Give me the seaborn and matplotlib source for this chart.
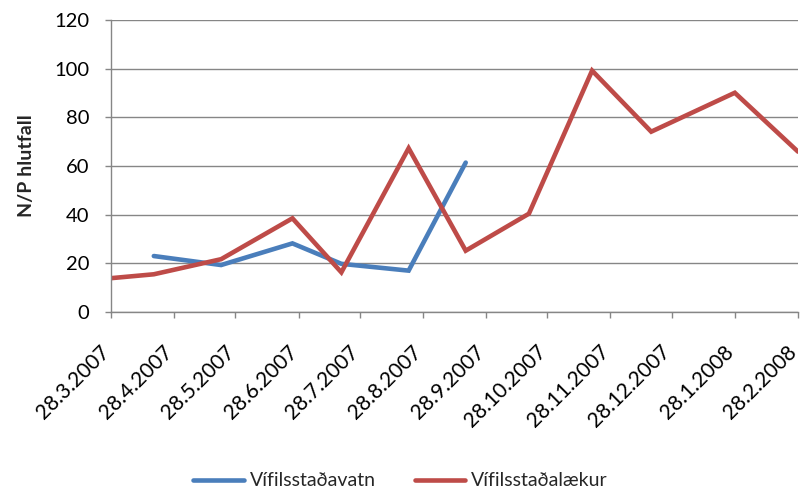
import matplotlib
matplotlib.use("Agg")
import matplotlib.pyplot as plt
import matplotlib.dates as mdates
import seaborn as sns
import pandas as pd
import numpy as np

# ---- data ----
dates = ["2007-03-28", "2007-04-18", "2007-05-21", "2007-06-25", "2007-07-19",
         "2007-08-21", "2007-09-18", "2007-10-19", "2007-11-19", "2007-12-18",
         "2008-01-28", "2008-02-28"]
vatn = [np.nan, 23.0, 19.3, 28.2, 19.8, 17.0, 61.4,
        np.nan, np.nan, np.nan, np.nan, np.nan]
laekur = [13.9, 15.5, 21.7, 38.5, 16.3, 67.3, 25.2, 40.4, 99.2, 74.1, 90.1, 65.9]
series_names = ["Vífilsstaðavatn", "Vífilsstaðalækur"]
tick_dates = ["2007-03-28", "2007-04-28", "2007-05-28", "2007-06-28", "2007-07-28",
              "2007-08-28", "2007-09-28", "2007-10-28", "2007-11-28", "2007-12-28",
              "2008-01-28", "2008-02-28"]
tick_labels = ["28.3.2007", "28.4.2007", "28.5.2007", "28.6.2007", "28.7.2007",
               "28.8.2007", "28.9.2007", "28.10.2007", "28.11.2007", "28.12.2007",
               "28.1.2008", "28.2.2008"]
y_ticks = [0, 20, 40, 60, 80, 100, 120]
y_label = "N/P hlutfall"

rows = []
for d, v in zip(dates, vatn):
    if not np.isnan(v):
        rows.append({"date": pd.Timestamp(d), "value": v, "series": series_names[0]})
for d, v in zip(dates, laekur):
    if not np.isnan(v):
        rows.append({"date": pd.Timestamp(d), "value": v, "series": series_names[1]})
df = pd.DataFrame(rows)

sns.set_style("white")
plt.rcParams['font.family'] = ['Lato', 'DejaVu Sans']

fig = plt.figure(figsize=(8.01, 4.91), dpi=100)
ax = fig.add_axes([111/801, 1-312/491, 687/801, 292/491])

grid_c = "#868686"
sns.lineplot(data=df, x="date", y="value", hue="series",
             palette={series_names[0]: "#4A7EBB", series_names[1]: "#BE4B48"},
             hue_order=series_names, linewidth=3.3, ax=ax, legend=True)
for ln in ax.get_lines():
    ln.set_solid_joinstyle("miter")

ax.set_ylim(0, 120)
ax.set_xlim(pd.Timestamp(tick_dates[0]), pd.Timestamp(tick_dates[-1]))
ax.set_yticks(y_ticks)
ax.set_yticklabels([str(t) for t in y_ticks], fontsize=14.5)
ax.set_xticks([mdates.date2num(pd.Timestamp(t)) for t in tick_dates])
ax.set_xticklabels(tick_labels, rotation=45, ha="right", va="baseline",
                   rotation_mode="anchor", fontsize=15)
ax.yaxis.grid(True, color=grid_c, linewidth=1.0)
ax.set_axisbelow(True)
for s in ["top", "right"]:
    ax.spines[s].set_visible(False)
for s in ["left", "bottom"]:
    ax.spines[s].set_color(grid_c)
    ax.spines[s].set_linewidth(1.0)
ax.tick_params(axis="both", direction="out", length=4.5, width=1.0, color=grid_c,
               colors="black", left=True, bottom=True)
ax.tick_params(axis="x", pad=25)
ax.tick_params(axis="y", pad=11)
ax.set_xlabel("")
ax.set_ylabel(y_label, fontsize=14, fontweight="bold", labelpad=14)

sns.move_legend(ax, "center", bbox_to_anchor=(0.5, 1-481/491),
                bbox_transform=fig.transFigure, ncol=2, frameon=False,
                title=None, fontsize=14, handlelength=2.6, handletextpad=0.3,
                columnspacing=2.0)

fig.savefig("out.png", dpi=100)
